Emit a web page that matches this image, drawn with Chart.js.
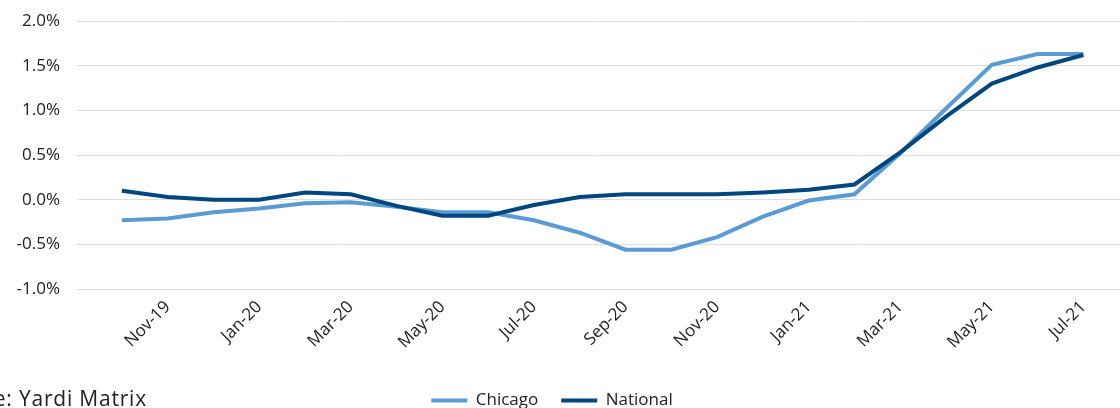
<!DOCTYPE html>
<html>
<head>
<meta charset="utf-8">
<script src="https://cdn.jsdelivr.net/npm/chart.js@4"></script>
<style>
    html, body { margin: 0; padding: 0; background: #fff; }
    #wrap { position: relative; width: 1120px; height: 408px; overflow: hidden; }
    #source {
        position: absolute; right: 973px; top: 388px;
        font: 21px/20px "Open Sans", sans-serif; letter-spacing: 0.8px;
        color: #222; white-space: nowrap;
    }
</style>
</head>
<body>
<div id="wrap">
    <canvas id="chart" width="1120" height="408"></canvas>
    <div id="source">Source: Yardi Matrix</div>
</div>
<script>
// monthly, Oct-19 .. Jul-21 (values in %)
const months = ['Oct-19', 'Nov-19', 'Dec-19', 'Jan-20', 'Feb-20', 'Mar-20', 'Apr-20', 'May-20',
    'Jun-20', 'Jul-20', 'Aug-20', 'Sep-20', 'Oct-20', 'Nov-20', 'Dec-20', 'Jan-21',
    'Feb-21', 'Mar-21', 'Apr-21', 'May-21', 'Jun-21', 'Jul-21'];
const chicago = [-0.23, -0.21, -0.14, -0.10, -0.04, -0.03, -0.08, -0.14, -0.14, -0.23, -0.37,
    -0.56, -0.56, -0.42, -0.19, -0.01, 0.06, 0.52, 1.02, 1.51, 1.63, 1.63];
const national = [0.10, 0.03, 0.00, 0.00, 0.08, 0.06, -0.07, -0.18, -0.18, -0.06, 0.03,
    0.06, 0.06, 0.06, 0.08, 0.11, 0.17, 0.53, 0.93, 1.30, 1.48, 1.62];
const yTicks = [-1.0, -0.5, 0.0, 0.5, 1.0, 1.5, 2.0];

const font = '"Open Sans", sans-serif';
const toPoints = (arr) => arr.map((v, i) => ({ x: i, y: v }));

// legend sits a little left of centre in the original
const legendShift = {
    id: 'legendShift',
    afterLayout(chart) {
        chart.legend.left -= 8;
        chart.legend.right -= 8;
    },
};

new Chart(document.getElementById('chart'), {
    type: 'line',
    data: {
        datasets: [
            {
                label: 'Chicago',
                data: toPoints(chicago),
                borderColor: '#5b9bd5',
                backgroundColor: '#5b9bd5',
                borderWidth: 4,
                pointRadius: 0,
                tension: 0,
                fill: false,
                order: 2,
            },
            {
                label: 'National',
                data: toPoints(national),
                borderColor: '#00467f',
                backgroundColor: '#00467f',
                borderWidth: 4,
                pointRadius: 0,
                tension: 0,
                fill: false,
                order: 1,
            },
        ],
    },
    plugins: [legendShift],
    options: {
        responsive: false,
        animation: false,
        layout: { padding: { top: 21, right: 0, left: 0, bottom: -11 } },
        plugins: {
            tooltip: { enabled: false },
            legend: {
                position: 'bottom',
                labels: {
                    usePointStyle: true,
                    pointStyle: 'line',
                    pointStyleWidth: 36,
                    padding: 23,
                    color: '#222',
                    font: { family: font, size: 17 },
                    sort: (a, b) => a.datasetIndex - b.datasetIndex,
                },
            },
        },
        scales: {
            x: {
                type: 'linear',
                min: -0.98,
                max: 21.8,
                grid: { display: false, drawTicks: false },
                border: { display: false },
                afterBuildTicks: (scale) => {
                    scale.ticks = months.map((m, i) => ({ value: i })).filter((t) => t.value % 2 === 1);
                },
                afterFit: (scale) => { scale.height = 80; },
                ticks: {
                    autoSkip: false,
                    minRotation: 45,
                    maxRotation: 45,
                    padding: 8,
                    color: '#222',
                    font: { family: font, size: 17 },
                    callback: (value) => months[value],
                },
            },
            y: {
                min: -1,
                max: 2,
                grid: { color: '#dedede', lineWidth: 1, drawTicks: false },
                border: { display: false },
                afterBuildTicks: (scale) => {
                    scale.ticks = yTicks.map((v) => ({ value: v }));
                },
                afterFit: (scale) => {
                    scale.width = 77;
                    scale.paddingTop = 0;
                    scale.paddingBottom = 0;
                },
                ticks: {
                    padding: 17,
                    color: '#222',
                    font: { family: font, size: 17 },
                    callback: (value) => value.toFixed(1) + '%',
                },
            },
        },
    },
});
</script>
</body>
</html>
